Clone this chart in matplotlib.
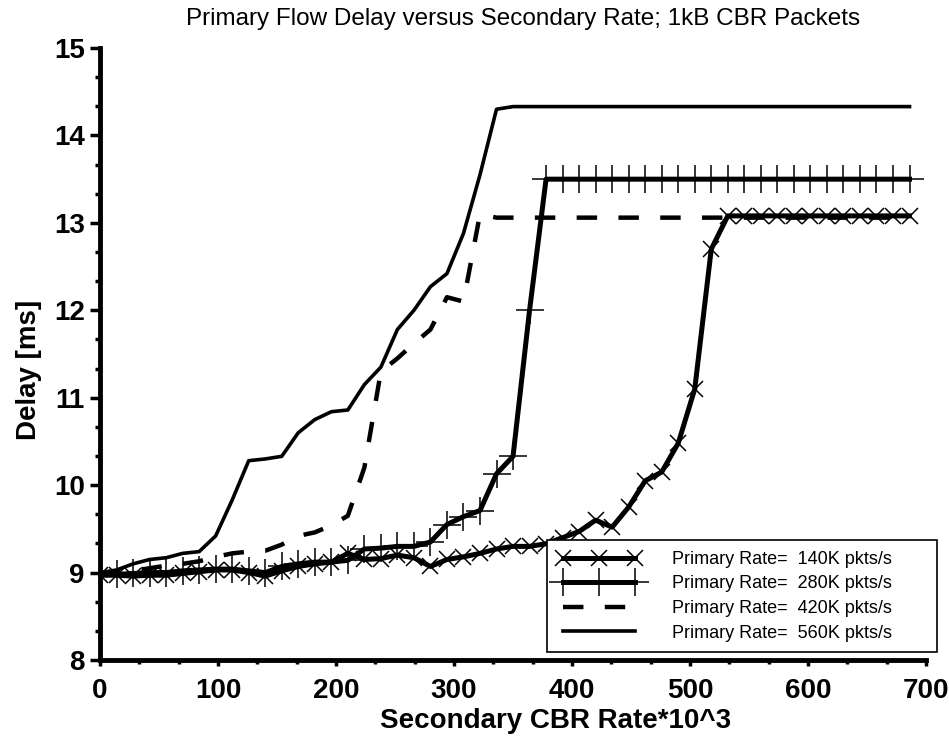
import matplotlib
matplotlib.use('Agg')
import matplotlib.pyplot as plt
from matplotlib.ticker import MultipleLocator

plt.rcParams['font.family'] = ['Liberation Sans', 'DejaVu Sans']

# Secondary CBR rate (*10^3), one sample every 14
rate = list(range(0, 700, 14))

# Delay [ms] per primary rate
delay_140 = [8.97, 8.97, 8.96, 8.97, 8.97, 8.99, 9.01, 9.03, 9.03, 9.00,
             8.96, 9.02, 9.07, 9.10, 9.12, 9.22, 9.15, 9.16, 9.20, 9.17,
             9.07, 9.15, 9.18, 9.22, 9.27, 9.30, 9.30, 9.33, 9.40, 9.47,
             9.60, 9.52, 9.75, 10.05, 10.15, 10.48, 11.10, 12.70, 13.08, 13.08,
             13.08, 13.08, 13.08, 13.08, 13.08, 13.08, 13.08, 13.08, 13.08, 13.08]
delay_280 = [8.98, 8.98, 8.99, 9.00, 9.00, 9.02, 9.03, 9.04, 9.04, 9.02,
             9.00, 9.07, 9.10, 9.12, 9.12, 9.14, 9.27, 9.28, 9.30, 9.30,
             9.35, 9.55, 9.64, 9.71, 10.13, 10.33, 12.00, 13.50, 13.50, 13.50,
             13.50, 13.50, 13.50, 13.50, 13.50, 13.50, 13.50, 13.50, 13.50, 13.50,
             13.50, 13.50, 13.50, 13.50, 13.50, 13.50, 13.50, 13.50, 13.50, 13.50]
delay_420 = [8.98, 9.00, 9.02, 9.05, 9.08, 9.10, 9.13, 9.18, 9.22, 9.24,
             9.25, 9.32, 9.42, 9.46, 9.54, 9.65, 10.20, 11.30, 11.45, 11.62,
             11.78, 12.15, 12.10, 13.10, 13.06, 13.06, 13.06, 13.06, 13.06, 13.06,
             13.06, 13.06, 13.06, 13.06, 13.06, 13.06, 13.06, 13.06, 13.06, 13.06,
             13.06, 13.06, 13.06, 13.06, 13.06, 13.06, 13.06, 13.06, 13.06, 13.06]
delay_560 = [9.00, 9.03, 9.10, 9.15, 9.17, 9.22, 9.24, 9.42, 9.83, 10.28,
             10.30, 10.33, 10.60, 10.75, 10.84, 10.86, 11.15, 11.35, 11.78, 12.00,
             12.27, 12.42, 12.88, 13.55, 14.30, 14.33, 14.33, 14.33, 14.33, 14.33,
             14.33, 14.33, 14.33, 14.33, 14.33, 14.33, 14.33, 14.33, 14.33, 14.33,
             14.33, 14.33, 14.33, 14.33, 14.33, 14.33, 14.33, 14.33, 14.33, 14.33]

labels = ['Primary Rate=  140K pkts/s', 'Primary Rate=  280K pkts/s',
          'Primary Rate=  420K pkts/s', 'Primary Rate=  560K pkts/s']

fig = plt.figure(figsize=(9.49, 7.48), dpi=100)
ax = fig.add_axes([0.1054, 0.1176, 0.8704, 0.8182])

ax.plot(rate, delay_560, color='black', lw=2.6, solid_joinstyle='round', label=labels[3])
ax.plot(rate, delay_420, color='black', lw=3.2, dashes=(4.6, 4.8), label=labels[2])
ax.plot(rate, delay_280, color='black', lw=3.6, marker='+', ms=20, mew=1.1,
        solid_joinstyle='round', label=labels[1])
ax.plot(rate, delay_140, color='black', lw=3.6, marker='x', ms=12, mew=1.1,
        solid_joinstyle='round', label=labels[0])

ax.set_xlim(0, 700)
ax.set_ylim(8, 15)
ax.xaxis.set_major_locator(MultipleLocator(100))
ax.xaxis.set_minor_locator(MultipleLocator(100 / 3))
ax.yaxis.set_major_locator(MultipleLocator(1))
ax.yaxis.set_minor_locator(MultipleLocator(1 / 3))

for side in ['top', 'right']:
    ax.spines[side].set_visible(False)
for side in ['left', 'bottom']:
    ax.spines[side].set_linewidth(3.5)

ax.tick_params(axis='both', which='both', direction='out', width=2.5)
ax.tick_params(axis='y', which='major', length=7, pad=4)
ax.tick_params(axis='y', which='minor', length=3.5)
ax.tick_params(axis='x', which='major', length=4, pad=9)
ax.tick_params(axis='x', which='minor', length=3)
for lab in ax.get_xticklabels() + ax.get_yticklabels():
    lab.set_fontsize(20)
    lab.set_fontweight('bold')

ax.set_xlabel('Secondary CBR Rate*10^3', fontsize=20, fontweight='bold')
ax.set_ylabel('Delay [ms]', fontsize=20, fontweight='bold')
ax.xaxis.set_label_coords(0.551, -0.078)
ax.yaxis.set_label_coords(-0.07, 0.474)

fig.text(523 / 949, 1 - 19 / 748, 'Primary Flow Delay versus Secondary Rate; 1kB CBR Packets',
         ha='center', va='center', fontsize=17.5)

handles, labs = ax.get_legend_handles_labels()
leg = ax.legend(handles[::-1], labs[::-1], loc='upper left',
                bbox_to_anchor=(547 / 949, 1 - 652 / 748, 390 / 949, 112 / 748),
                bbox_transform=fig.transFigure, mode='expand',
                fontsize=13, frameon=True, fancybox=False, framealpha=1, edgecolor='black',
                borderpad=0.6, labelspacing=0.42, handlelength=4.6, handletextpad=1.7,
                numpoints=3, borderaxespad=0)
leg.get_frame().set_linewidth(1.2)

fig.savefig('out.png', dpi=100)
